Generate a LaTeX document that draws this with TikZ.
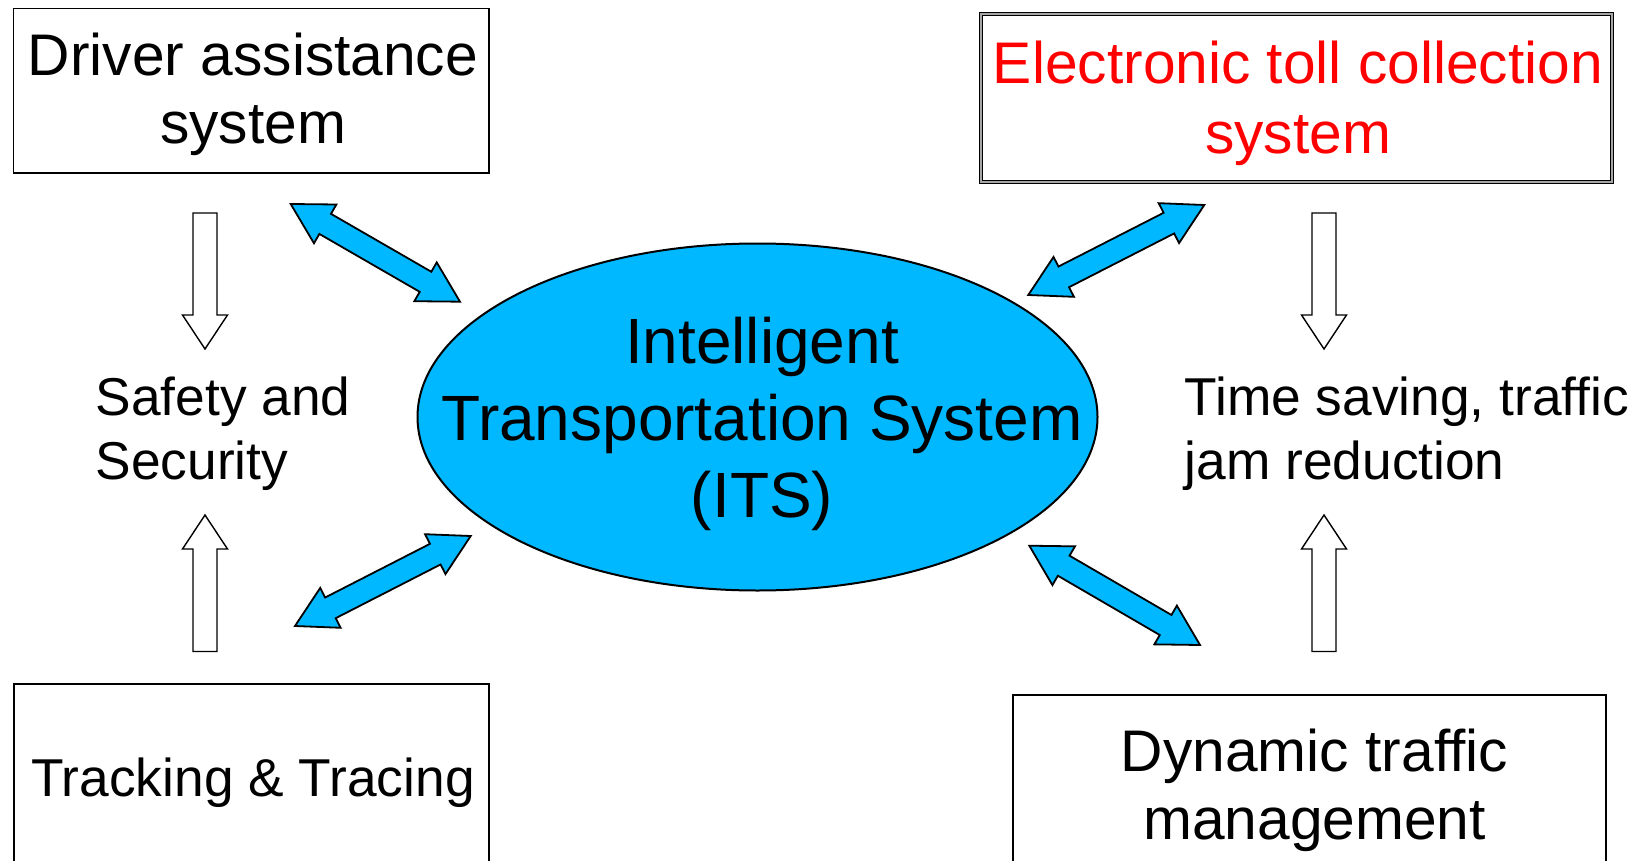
\documentclass[tikz,border=0pt]{standalone}
\usepackage{fontspec}
\setmainfont{Liberation Sans}
\usetikzlibrary{calc,shapes.geometric}
\definecolor{itsblue}{RGB}{0,184,255}
\definecolor{tollred}{RGB}{255,0,0}
\newcommand\fsz[1]{\fontsize{#1}{#1}\selectfont}
\tikzset{
  box/.style={draw=black, line width=1.3pt, rectangle, inner sep=0pt, fill=white},
  txt/.style={anchor=base, inner sep=0pt},
  ltxt/.style={anchor=base west, inner sep=0pt},
  bluearrow/.style={draw=black, line width=1.8pt, fill=itsblue, line join=miter},
  hollowarrow/.style={draw=black, line width=1.4pt, fill=white, line join=miter},
}
\newcommand\dblarrow[2]{%
  \path ($(#1)!39.8pt!(#2)$) coordinate (ha) ($(#2)!39.8pt!(#1)$) coordinate (hb);
  \draw[bluearrow] (#1) -- ($(ha)!22.4pt!90:(#2)$) -- ($(ha)!11.6pt!90:(#2)$)
    -- ($(hb)!11.6pt!-90:(#1)$) -- ($(hb)!22.4pt!-90:(#1)$) -- (#2)
    -- ($(hb)!22.4pt!90:(#1)$) -- ($(hb)!11.6pt!90:(#1)$)
    -- ($(ha)!11.6pt!-90:(#2)$) -- ($(ha)!22.4pt!-90:(#2)$) -- cycle;}
\newcommand\hollow[2]{%
  \path ($(#2)!34pt!(#1)$) coordinate (hh);
  \draw[hollowarrow] ($(#1)!12pt!90:(#2)$) -- ($(hh)!12pt!90:(#2)$) -- ($(hh)!22.5pt!90:(#2)$)
    -- (#2) -- ($(hh)!22.5pt!-90:(#2)$) -- ($(hh)!12pt!-90:(#2)$) -- ($(#1)!12pt!-90:(#2)$) -- cycle;}
\begin{document}
\begin{tikzpicture}[x=1pt,y=-1pt]
\useasboundingbox[fill=white] (0,0) rectangle (1645,861);

% boxes
\node[box, minimum width=475.4pt, minimum height=164.6pt] (driverbox) at (251.3,90.7) {};
\node[box, line width=1.1pt, double=gray!70, double distance=1.4pt, minimum width=631pt, minimum height=168pt] (tollbox) at (1296.5,98) {};
\node[box, minimum width=475pt, minimum height=216pt] (trackbox) at (251.5,792) {};
\node[box, minimum width=593pt, minimum height=205pt] (dynbox) at (1309.5,797.5) {};

% ellipse
\node[ellipse, draw=black, line width=2pt, fill=itsblue, minimum width=680pt, minimum height=347pt, inner sep=0pt] (its) at (757.5,417) {};

% texts
\node[txt, font=\fsz{58.7}] (d1) at (253,75.5) {Driver assistance};
\node[txt, font=\fsz{58.7}] (d2) at (253,143.7) {system};
\node[txt, font=\fsz{58.7}, text=tollred] (e1) at (1298,84) {Electronic toll collection};
\node[txt, font=\fsz{58.7}, text=tollred] (e2) at (1298,154) {system};
\node[txt, font=\fsz{64}] (i1) at (762,363) {Intelligent};
\node[txt, font=\fsz{64}] (i2) at (762,440) {Transportation System};
\node[txt, font=\fsz{64}] (i3) at (762,517) {(ITS)};
\node[ltxt, font=\fsz{53.3}] (s1) at (95.5,415) {Safety and};
\node[ltxt, font=\fsz{53.3}] (s2) at (95.5,479.5) {Security};
\node[ltxt, font=\fsz{53.3}] (t1) at (1184.5,415) {Time saving, traffic};
\node[ltxt, font=\fsz{53.3}] (t2) at (1184.5,479.5) {jam reduction};
\node[txt, font=\fsz{53.3}] (tr) at (253,796) {Tracking \& Tracing};
\node[txt, font=\fsz{58.7}] (y1) at (1314.5,771) {Dynamic traffic};
\node[txt, font=\fsz{58.7}] (y2) at (1314.5,839) {management};

% blue double arrows
\coordinate (a1) at (290.7,204);  \coordinate (b1) at (460,301.7);
\coordinate (a2) at (1028.3,295); \coordinate (b2) at (1204.3,205);
\coordinate (a3) at (295,626);    \coordinate (b3) at (470.7,536);
\coordinate (a4) at (1029.3,545.7); \coordinate (b4) at (1200,645);
\dblarrow{a1}{b1}
\dblarrow{a2}{b2}
\dblarrow{a3}{b3}
\dblarrow{a4}{b4}

% hollow arrows
\coordinate (h1s) at (205,213);   \coordinate (h1t) at (205,349);
\coordinate (h2s) at (205,651.5); \coordinate (h2t) at (205,515);
\coordinate (h3s) at (1324,213);  \coordinate (h3t) at (1324,349);
\coordinate (h4s) at (1324,651.5); \coordinate (h4t) at (1324,515);
\hollow{h1s}{h1t}
\hollow{h2s}{h2t}
\hollow{h3s}{h3t}
\hollow{h4s}{h4t}
\end{tikzpicture}
\end{document}
